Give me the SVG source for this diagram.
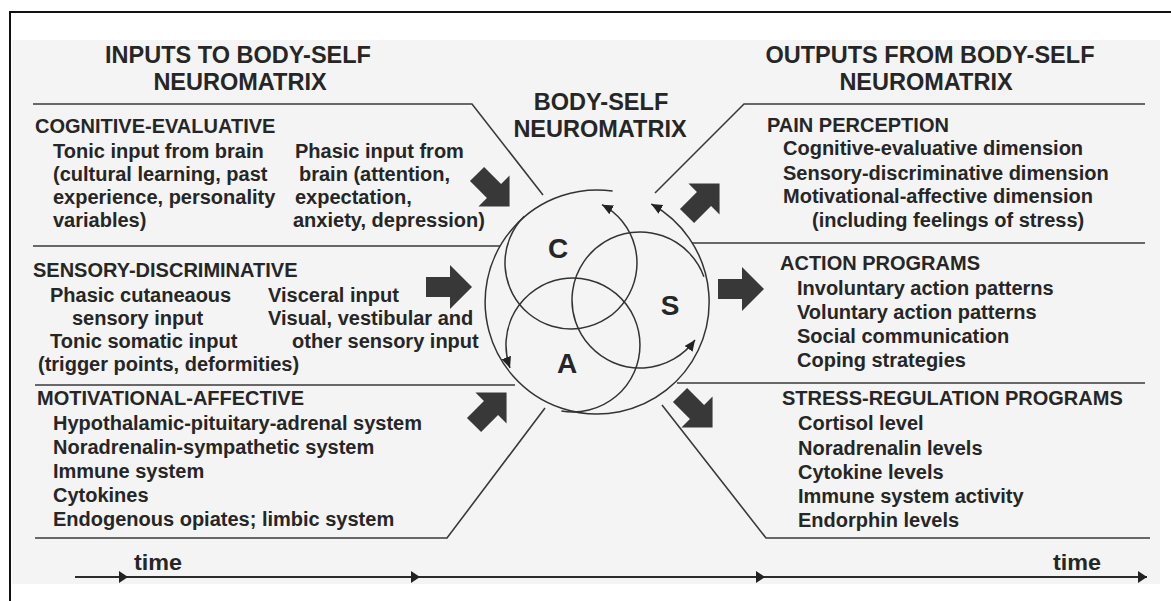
<svg xmlns="http://www.w3.org/2000/svg" width="1171" height="601" viewBox="0 0 1171 601">
  <defs>
    <style>
      .t { font-family: "Liberation Sans", Arial, sans-serif; font-weight: bold; font-size: 20px; fill: #262626; }
      .h { font-size: 23.5px; text-anchor: middle; }
      .big { font-size: 28px; text-anchor: middle; }
      .tm { font-family: "Liberation Sans", Arial, sans-serif; font-weight: bold; font-size: 22px; fill: #262626; }
      .ln { stroke: #3a3a3a; stroke-width: 1.6; fill: none; }
      .axis { stroke: #2a2a2a; stroke-width: 2; fill: none; marker-end: url(#tick); }
      .arc { stroke: #333; stroke-width: 1.5; fill: none; marker-end: url(#tip); }
      .blk { fill: #383838; }
    </style>
    <marker id="tip" markerUnits="userSpaceOnUse" markerWidth="14" markerHeight="12" refX="11" refY="5" orient="auto">
      <path d="M0,0 L11,5 L0,10 Z" fill="#222"/>
    </marker>
    <marker id="tick" markerUnits="userSpaceOnUse" markerWidth="12" markerHeight="14" refX="9" refY="6" orient="auto">
      <path d="M0,0 L9,6 L0,12 Z" fill="#222"/>
    </marker>
    <!-- block arrow, pointing right, origin at head base centre -->
    <path id="blockArrow" d="M-24,-10 H0 V-22 L22,0 L0,22 V10 H-24 Z"/>
  </defs>

  <!-- page frame and panel -->
  <rect x="0" y="0" width="1171" height="601" fill="#ffffff"/>
  <rect x="12" y="40" width="1148" height="544" fill="#f4f4f4"/>
  <path d="M1171,12 H10 V601" stroke="#111" stroke-width="2" fill="none"/>

  <!-- headings -->
  <g id="heading-inputs">
    <text class="t h" x="238" y="63">INPUTS TO BODY-SELF</text>
    <text class="t h" x="240" y="90">NEUROMATRIX</text>
  </g>
  <g id="heading-centre">
    <text class="t h" x="601" y="110">BODY-SELF</text>
    <text class="t h" x="600" y="137">NEUROMATRIX</text>
  </g>
  <g id="heading-outputs">
    <text class="t h" x="930" y="63">OUTPUTS FROM BODY-SELF</text>
    <text class="t h" x="926" y="90">NEUROMATRIX</text>
  </g>

  <!-- separators and connectors -->
  <g id="connectors">
    <path class="ln" d="M33,104 H472 L543,195"/>
    <path class="ln" d="M33,246 H500"/>
    <path class="ln" d="M35,385 H515"/>
    <path class="ln" d="M35,538 H447 L545,408"/>
    <path class="ln" d="M1145,104 H744 L655,193"/>
    <path class="ln" d="M692,243 H1145"/>
    <path class="ln" d="M677,383 H1145"/>
    <path class="ln" d="M662,405 L766,538 H1150"/>

    <!-- input arrows -->
    <use href="#blockArrow" class="blk" transform="translate(494,191) rotate(45)"/>
    <use href="#blockArrow" class="blk" transform="translate(450,287)"/>
    <use href="#blockArrow" class="blk" transform="translate(491,408) rotate(-45)"/>
    <!-- output arrows -->
    <use href="#blockArrow" class="blk" transform="translate(704,199) rotate(-45)"/>
    <use href="#blockArrow" class="blk" transform="translate(742,289)"/>
    <use href="#blockArrow" class="blk" transform="translate(697,412) rotate(45)"/>

    <!-- time axis -->
    <path class="axis" d="M75,577 H128"/>
    <path class="axis" d="M128,577 H420"/>
    <path class="axis" d="M420,577 H765"/>
    <path class="axis" d="M765,577 H1147"/>
  </g>

  <!-- neuromatrix: outer loop and three neuromodules -->
  <g id="neuromatrix">
    <path class="arc" d="M612.6,191.1 A112,112 0 1 0 651.3,204"/>
    <path class="arc" d="M524.3,216.3 A66,66 0 1 0 602,204.7"/>
    <path class="arc" d="M703.9,276.7 A68,68 0 1 0 695,340"/>
    <path class="arc" d="M561.4,411 A67,67 0 1 0 510,367.9"/>
    <text class="t big" x="558" y="258">C</text>
    <text class="t big" x="670" y="315">S</text>
    <text class="t big" x="567" y="373">A</text>
  </g>

  <g id="cognitive-evaluative">
    <text class="t" x="35" y="133">COGNITIVE-EVALUATIVE</text>
    <text class="t" x="53" y="158">Tonic input from brain</text>
    <text class="t" x="53" y="181">(cultural learning, past</text>
    <text class="t" x="53" y="204">experience, personality</text>
    <text class="t" x="53" y="227">variables)</text>
    <text class="t" x="295" y="158">Phasic input from</text>
    <text class="t" x="299" y="181">brain (attention,</text>
    <text class="t" x="295" y="204">expectation,</text>
    <text class="t" x="293" y="227">anxiety, depression)</text>
  </g>

  <g id="sensory-discriminative">
    <text class="t" x="33" y="277">SENSORY-DISCRIMINATIVE</text>
    <text class="t" x="50" y="302">Phasic cutaneaous</text>
    <text class="t" x="72" y="325">sensory input</text>
    <text class="t" x="50" y="348">Tonic somatic input</text>
    <text class="t" x="38" y="371">(trigger points, deformities)</text>
    <text class="t" x="268" y="302">Visceral input</text>
    <text class="t" x="268" y="325">Visual, vestibular and</text>
    <text class="t" x="292" y="348">other sensory input</text>
  </g>

  <g id="motivational-affective">
    <text class="t" x="37" y="405">MOTIVATIONAL-AFFECTIVE</text>
    <text class="t" x="53" y="430">Hypothalamic-pituitary-adrenal system</text>
    <text class="t" x="53" y="454">Noradrenalin-sympathetic system</text>
    <text class="t" x="53" y="478">Immune system</text>
    <text class="t" x="53" y="502">Cytokines</text>
    <text class="t" x="53" y="526">Endogenous opiates; limbic system</text>
  </g>

  <g id="pain-perception">
    <text class="t" x="767" y="132">PAIN PERCEPTION</text>
    <text class="t" x="783" y="155">Cognitive-evaluative dimension</text>
    <text class="t" x="783" y="180">Sensory-discriminative dimension</text>
    <text class="t" x="783" y="203">Motivational-affective dimension</text>
    <text class="t" x="812" y="227">(including feelings of stress)</text>
  </g>

  <g id="action-programs">
    <text class="t" x="780" y="270">ACTION PROGRAMS</text>
    <text class="t" x="797" y="295">Involuntary action patterns</text>
    <text class="t" x="797" y="319">Voluntary action patterns</text>
    <text class="t" x="797" y="343">Social communication</text>
    <text class="t" x="797" y="367">Coping strategies</text>
  </g>

  <g id="stress-regulation">
    <text class="t" x="782" y="405">STRESS-REGULATION PROGRAMS</text>
    <text class="t" x="798" y="430">Cortisol level</text>
    <text class="t" x="798" y="455">Noradrenalin levels</text>
    <text class="t" x="798" y="479">Cytokine levels</text>
    <text class="t" x="798" y="503">Immune system activity</text>
    <text class="t" x="798" y="527">Endorphin levels</text>
  </g>

  <g id="time-labels">
    <text class="tm" x="134" y="570" textLength="48" lengthAdjust="spacingAndGlyphs">time</text>
    <text class="tm" x="1053" y="570" textLength="48" lengthAdjust="spacingAndGlyphs">time</text>
  </g>
</svg>
